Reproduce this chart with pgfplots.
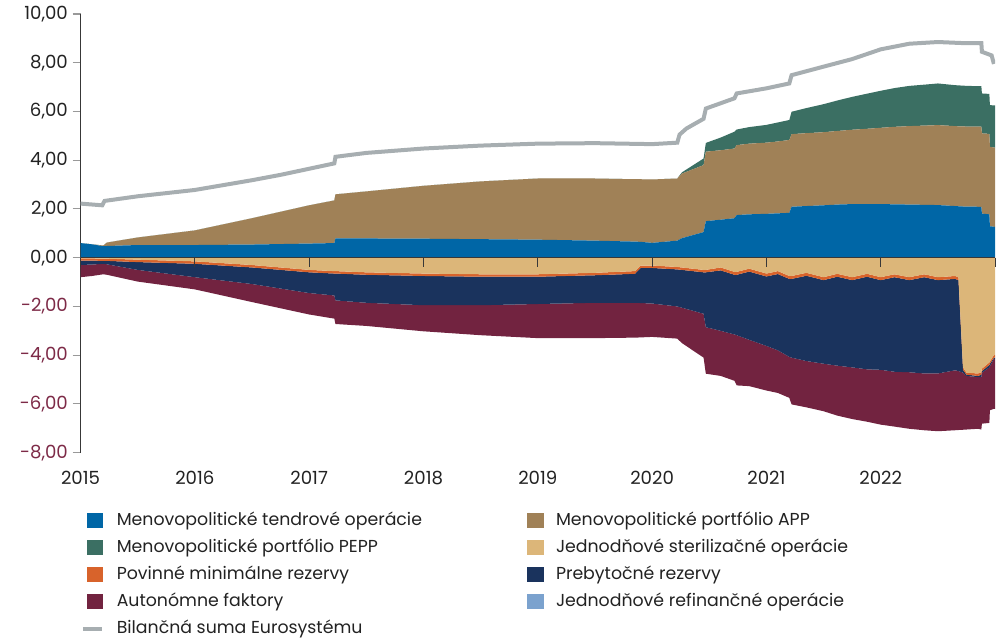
\documentclass[border=0pt]{standalone}
\usepackage{pgfplots}
\usepackage{pgfplotstable}
\pgfplotsset{compat=1.18}
\usepackage{fontspec}
\setmainfont{Poppins}
\definecolor{ctend}{HTML}{0066A6}
\definecolor{capp}{HTML}{A08157}
\definecolor{cpepp}{HTML}{3B6F63}
\definecolor{cster}{HTML}{DCB679}
\definecolor{cpov}{HTML}{D8632B}
\definecolor{cpreb}{HTML}{1A335D}
\definecolor{cauto}{HTML}{722340}
\definecolor{crefi}{HTML}{7BA2CE}
\definecolor{cline}{HTML}{A7AEB1}
\definecolor{negtext}{HTML}{7D2A47}
\definecolor{txt}{HTML}{222222}

\pgfplotstableread{
t tend app pepp ster pov preb auto
2015.00 0.60 0.00 0.00 -0.03 -0.09 -0.18 -0.50
2015.10 0.55 0.00 0.00 -0.03 -0.09 -0.16 -0.47
2015.20 0.47 0.03 0.00 -0.04 -0.09 -0.12 -0.43
2015.23 0.48 0.14 0.00 -0.04 -0.09 -0.14 -0.43
2015.50 0.52 0.31 0.00 -0.08 -0.10 -0.32 -0.48
2016.00 0.52 0.60 0.00 -0.15 -0.10 -0.55 -0.50
2016.50 0.54 1.08 0.00 -0.30 -0.10 -0.68 -0.74
2017.00 0.58 1.57 0.00 -0.50 -0.10 -0.85 -0.88
2017.22 0.60 1.75 0.00 -0.55 -0.10 -0.90 -0.95
2017.23 0.79 1.81 0.00 -0.55 -0.10 -1.10 -0.97
2017.50 0.79 1.93 0.00 -0.60 -0.10 -1.15 -0.95
2018.00 0.78 2.17 0.00 -0.65 -0.10 -1.20 -1.07
2018.50 0.76 2.37 0.00 -0.68 -0.10 -1.17 -1.23
2019.00 0.74 2.51 0.00 -0.68 -0.10 -1.12 -1.40
2019.50 0.70 2.55 0.00 -0.62 -0.10 -1.13 -1.45
2019.85 0.66 2.56 0.00 -0.55 -0.11 -1.19 -1.43
2019.90 0.65 2.57 0.00 -0.32 -0.10 -1.44 -1.41
2020.00 0.61 2.60 0.00 -0.32 -0.10 -1.46 -1.37
2020.22 0.70 2.55 0.00 -0.38 -0.10 -1.52 -1.32
2020.26 0.80 2.65 0.05 -0.40 -0.10 -1.55 -1.45
2020.45 1.05 2.75 0.27 -0.50 -0.10 -1.70 -1.80
2020.47 1.50 2.85 0.36 -0.50 -0.10 -2.25 -1.91
2020.60 1.56 2.85 0.52 -0.40 -0.12 -2.48 -1.85
2020.72 1.62 2.86 0.69 -0.58 -0.12 -2.45 -1.90
2020.74 1.75 2.87 0.64 -0.58 -0.12 -2.48 -2.06
2020.85 1.78 2.90 0.68 -0.45 -0.12 -2.80 -1.90
2021.00 1.80 2.92 0.73 -0.65 -0.12 -2.85 -1.83
2021.10 1.82 2.95 0.78 -0.55 -0.12 -3.13 -1.75
2021.20 1.84 2.99 0.82 -0.75 -0.12 -3.20 -1.68
2021.22 2.09 2.98 0.92 -0.75 -0.12 -3.23 -1.92
2021.35 2.12 2.99 1.03 -0.62 -0.12 -3.50 -1.90
2021.50 2.15 3.00 1.15 -0.80 -0.12 -3.43 -1.95
2021.62 2.18 3.02 1.25 -0.66 -0.12 -3.65 -2.05
2021.75 2.20 3.05 1.35 -0.80 -0.12 -3.58 -2.12
2021.88 2.20 3.09 1.44 -0.66 -0.12 -3.80 -2.15
2022.00 2.20 3.13 1.52 -0.80 -0.12 -3.68 -2.25
2022.12 2.19 3.18 1.59 -0.68 -0.12 -3.88 -2.25
2022.25 2.18 3.22 1.65 -0.80 -0.12 -3.78 -2.32
2022.38 2.17 3.25 1.68 -0.68 -0.12 -3.95 -2.33
2022.50 2.16 3.28 1.71 -0.80 -0.12 -3.83 -2.37
2022.65 2.12 3.28 1.68 -0.75 -0.12 -3.75 -2.46
2022.68 2.11 3.28 1.68 -0.80 -0.12 -3.73 -2.42
2022.72 2.10 3.29 1.67 -4.50 -0.10 -0.12 -2.34
2022.75 2.10 3.28 1.67 -4.72 -0.08 -0.05 -2.20
2022.85 2.09 3.29 1.66 -4.75 -0.10 -0.05 -2.12
2022.88 2.09 3.29 1.66 -4.70 -0.10 -0.10 -2.15
2022.885 1.81 3.29 1.64 -4.55 -0.10 -0.07 -2.09
2022.95 1.78 3.30 1.64 -4.30 -0.10 -0.10 -2.28
2022.955 1.29 3.26 1.71 -4.25 -0.10 -0.10 -1.81
2022.99 1.27 3.25 1.73 -4.00 -0.10 -0.05 -2.05
2023.00 1.27 3.25 1.73 -4.00 -0.10 -0.05 -2.05
}\stacktab

\pgfplotstableread{
t v
2015.00 2.22
2015.19 2.15
2015.21 2.33
2015.50 2.52
2016.00 2.78
2016.50 3.18
2016.75 3.40
2017.00 3.65
2017.22 3.87
2017.23 4.14
2017.50 4.30
2018.00 4.48
2018.50 4.60
2019.00 4.68
2019.50 4.70
2020.00 4.66
2020.22 4.72
2020.24 5.05
2020.30 5.30
2020.45 5.70
2020.47 6.12
2020.72 6.54
2020.74 6.74
2021.00 6.95
2021.20 7.15
2021.22 7.49
2021.50 7.84
2021.75 8.15
2022.00 8.55
2022.25 8.78
2022.50 8.85
2022.75 8.80
2022.88 8.80
2022.885 8.45
2022.97 8.30
2022.99 7.95
}\bilTab

\begin{document}
\begin{tikzpicture}
\useasboundingbox (-60.4pt,-139.7pt) rectangle (688.1pt,339.5pt);
\begin{axis}[
  at={(0pt,0pt)}, anchor=south west,
  scale only axis, width=685.9pt, height=329pt,
  xmin=2015, xmax=2023, ymin=-8, ymax=10,
  axis y line*=left, axis x line*=bottom,
  x axis line style={draw=none},
  y axis line style={draw=txt!90, line width=0.8pt},
  xtick={2015,2016,2017,2018,2019,2020,2021,2022},
  xticklabels={2015,2016,2017,2018,2019,2020,2021,2022},
  x tick style={draw=none},
  major x tick style={draw=none},
  ytick={-8,-6,-4,-2,0,2,4,6,8,10},
  y tick style={draw=gray!80, line width=0.8pt},
  tick align=outside, major tick length=6pt,
  yticklabel={\ifdim\tick pt<0pt\color{negtext}\fi\pgfmathprintnumber{\tick}},
  yticklabel style={/pgf/number format/.cd, fixed, fixed zerofill, precision=2, use comma, assume math mode=true},
  ticklabel style={font=\fontsize{13.6}{16}\selectfont, text=txt},
  xticklabel style={yshift=-4pt},
  stack plots=y,
  legend columns=2,
  legend cell align=left,
  legend style={draw=none, fill=none, at={(0,-0.1345)}, anchor=north west,
    font=\fontsize{13}{15}\selectfont, text=txt, inner sep=0pt,
    nodes={inner ysep=0pt, text height=10pt, text depth=3pt},
    row sep=7.25pt,
    /tikz/every odd column/.append style={column sep=7.5pt}},
]
\addplot[fill=ctend, draw=none, forget plot] table[x=t, y=tend] {\stacktab} \closedcycle;
\addplot[fill=capp, draw=none, forget plot] table[x=t, y=app] {\stacktab} \closedcycle;
\addplot[fill=cpepp, draw=none, forget plot] table[x=t, y=pepp] {\stacktab} \closedcycle;
\addplot[draw=none, forget plot] table[x=t, y expr=-\thisrow{tend}-\thisrow{app}-\thisrow{pepp}] {\stacktab};
\addplot[fill=cster, draw=none, forget plot] table[x=t, y=ster] {\stacktab} \closedcycle;
\addplot[fill=cpov, draw=none, forget plot] table[x=t, y=pov] {\stacktab} \closedcycle;
\addplot[fill=cpreb, draw=none, forget plot] table[x=t, y=preb] {\stacktab} \closedcycle;
\addplot[fill=cauto, draw=none, forget plot] table[x=t, y=auto] {\stacktab} \closedcycle;
\addplot[stack plots=false, draw=cline, line width=3pt, forget plot] table[x=t, y=v] {\bilTab};
\addlegendimage{legend image code/.code={\fill[ctend] (0pt,-5.2pt) rectangle (11.5pt,5.2pt);}}
\addlegendentry{\makebox[306pt][l]{Menovopolitické tendrové operácie}}
\addlegendimage{legend image code/.code={\fill[capp] (0pt,-5.2pt) rectangle (11.5pt,5.2pt);}}
\addlegendentry{Menovopolitické portfólio APP}
\addlegendimage{legend image code/.code={\fill[cpepp] (0pt,-5.2pt) rectangle (11.5pt,5.2pt);}}
\addlegendentry{\makebox[306pt][l]{Menovopolitické portfólio PEPP}}
\addlegendimage{legend image code/.code={\fill[cster] (0pt,-5.2pt) rectangle (11.5pt,5.2pt);}}
\addlegendentry{Jednodňové sterilizačné operácie}
\addlegendimage{legend image code/.code={\fill[cpov] (0pt,-5.2pt) rectangle (11.5pt,5.2pt);}}
\addlegendentry{\makebox[306pt][l]{Povinné minimálne rezervy}}
\addlegendimage{legend image code/.code={\fill[cpreb] (0pt,-5.2pt) rectangle (11.5pt,5.2pt);}}
\addlegendentry{Prebytočné rezervy}
\addlegendimage{legend image code/.code={\fill[cauto] (0pt,-5.2pt) rectangle (11.5pt,5.2pt);}}
\addlegendentry{\makebox[306pt][l]{Autonómne faktory}}
\addlegendimage{legend image code/.code={\fill[crefi] (0pt,-5.2pt) rectangle (11.5pt,5.2pt);}}
\addlegendentry{Jednodňové refinančné operácie}
\addlegendimage{legend image code/.code={\draw[cline, line width=3pt] (-3pt,0pt) -- (11.5pt,0pt);}}
\addlegendentry{\makebox[306pt][l]{Bilančná suma Eurosystému}}
\end{axis}
% zero line and year ticks drawn on top of the axis (axis box: 685.9pt x 329pt, y=0 at 8/18 of height)
\draw[txt!90, line width=0.8pt] (0pt,146.22pt) -- (685.9pt,146.22pt);
\foreach \k in {0,...,8} {
  \draw[txt!90, line width=0.8pt] ({\k*85.7375pt},146.22pt) -- ++(0pt,-7pt);
}
\end{tikzpicture}
\end{document}
